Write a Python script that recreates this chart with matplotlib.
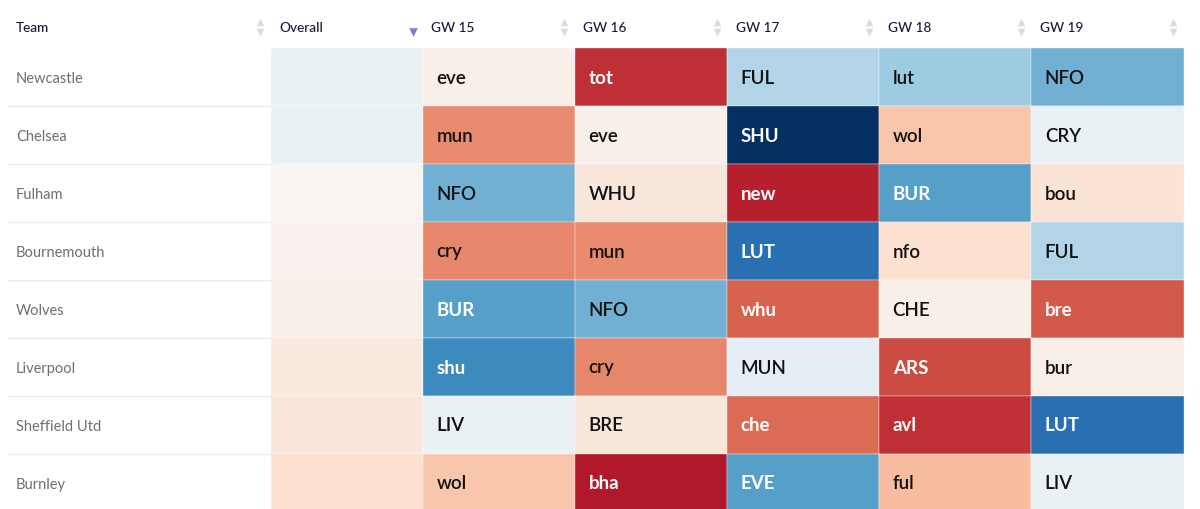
import numpy as np
import matplotlib
matplotlib.use("Agg")
import matplotlib.pyplot as plt

plt.rcParams['font.family'] = ['Lato', 'DejaVu Sans']

teams = ["Newcastle", "Chelsea", "Fulham", "Bournemouth", "Wolves", "Liverpool", "Sheffield Utd", "Burnley"]
columns = ["Overall", "GW 15", "GW 16", "GW 17", "GW 18", "GW 19"]

overall = [0.535, 0.535, 0.49, 0.48, 0.47, 0.45, 0.44, 0.42]
gw15 = [0.47, 0.265, 0.74, 0.255, 0.775, 0.82, 0.535, 0.36]
gw16 = [0.135, 0.47, 0.445, 0.265, 0.74, 0.255, 0.445, 0.10]
gw17 = [0.65, 1.00, 0.11, 0.875, 0.205, 0.55, 0.215, 0.775]
gw18 = [0.68, 0.36, 0.775, 0.42, 0.47, 0.175, 0.135, 0.345]
gw19 = [0.74, 0.535, 0.43, 0.65, 0.195, 0.47, 0.875, 0.535]

fix15 = ["eve", "mun", "NFO", "cry", "BUR", "shu", "LIV", "wol"]
fix16 = ["tot", "eve", "WHU", "mun", "NFO", "cry", "BRE", "bha"]
fix17 = ["FUL", "SHU", "new", "LUT", "whu", "MUN", "che", "EVE"]
fix18 = ["lut", "wol", "BUR", "nfo", "CHE", "ARS", "avl", "ful"]
fix19 = ["NFO", "CRY", "bou", "FUL", "bre", "bur", "LUT", "LIV"]

W, H = 1200, 510
left, right, top = 270.7, 1183.5, 48.5
row_h = 58
n_rows, n_cols = len(teams), len(columns)
col_w = (right - left) / n_cols

fig = plt.figure(figsize=(W / 100, H / 100), dpi=100, facecolor="white")
ax = fig.add_axes([left / W, 0, (right - left) / W, (H - top) / H])

values = np.array([overall, gw15, gw16, gw17, gw18, gw19]).T
fixtures = [fix15, fix16, fix17, fix18, fix19]

ax.pcolormesh(np.arange(n_cols + 1), np.arange(n_rows + 1), values, cmap="RdBu",
              vmin=0, vmax=1, edgecolors="#ffffff", linewidth=0.25, antialiased=True)
ax.set_xlim(0, n_cols)
ax.set_ylim((H - top) / row_h, 0)
ax.axis("off")

# cell labels
for c, col in enumerate(fixtures, start=1):
    for r, label in enumerate(col):
        v = values[r, c]
        dark = v < 0.22 or v > 0.76
        ax.annotate(label, (c, r + 0.5), xytext=(13.5, -0.5), textcoords="offset pixels",
                    ha="left", va="center", fontsize=13.5, fontweight="semibold" if not dark else "bold",
                    color="white" if dark else "#111111")

px = 1 / col_w
team_x = (16 - left) * px
line_x0 = (8 - left) * px

# team names and row separators
for r, team in enumerate(teams):
    ax.annotate(team, (team_x, r + 0.5), xytext=(0, -1.5), textcoords="offset pixels",
                ha="left", va="center", fontsize=10.5, color="#6f6f6f", annotation_clip=False)
    if r < n_rows - 1:
        ax.plot([line_x0, 0], [r + 1, r + 1], color="#e9ebee", lw=1, clip_on=False)

# header
header_y = -(48 - 27.5) / row_h
arrow_up = -(48 - 22) / row_h
arrow_dn = -(48 - 32.5) / row_h
headers = ["Team"] + columns
starts = [team_x] + [i + 8.5 * px for i in range(n_cols)]
arrows = [-10.5 * px] + [i + 1 - 10.5 * px for i in range(n_cols)]
for name, xs, xa in zip(headers, starts, arrows):
    ax.text(xs, header_y, name, ha="left", va="center", fontsize=9.8, fontweight="medium",
            color="#1d1638", clip_on=False)
    if name == "Overall":
        ax.scatter([xa + px], [arrow_dn], marker="v", s=38, color="#7b7bd6", clip_on=False, linewidths=0)
    else:
        ax.scatter([xa], [arrow_up], marker="^", s=30, color="#dcdcdf", clip_on=False, linewidths=0)
        ax.scatter([xa], [arrow_dn], marker="v", s=30, color="#dcdcdf", clip_on=False, linewidths=0)

fig.savefig("out.png", dpi=100, facecolor="white")
